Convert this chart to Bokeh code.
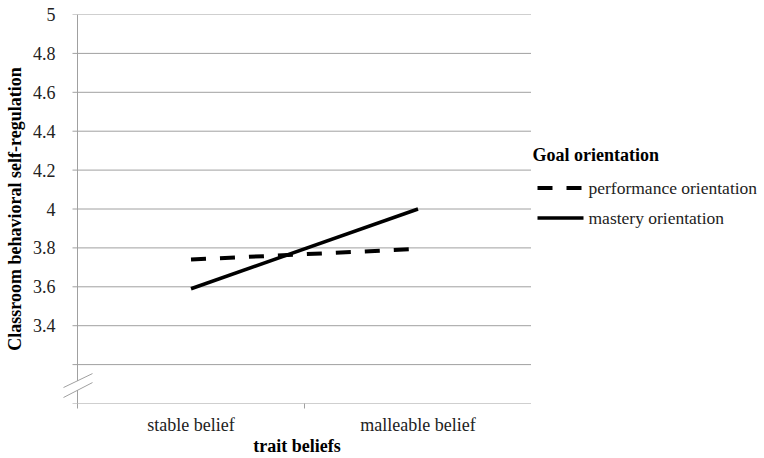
from bokeh.plotting import figure
from bokeh.layouts import row
from bokeh.models import Range1d, LinearAxis, FixedTicker, CustomJSTickFormatter
from bokeh.core.properties import value
from bokeh.embed import file_html
from bokeh.resources import INLINE

categories = ["stable belief", "malleable belief"]
performance = [3.74, 3.795]
mastery = [3.59, 4.0]
y_ticks = [3.0, 3.2, 3.4, 3.6, 3.8, 4.0, 4.2, 4.4, 4.6, 4.8, 5.0]
series_names = ["performance orientation", "mastery orientation"]
legend_title = "Goal orientation"

FONT = "Liberation Serif"
GRAY = "#a0a0a0"

H = 458
AXIS_X = 77          # page x of the value axis
FRAME_L = 62         # frame starts a little left of the axis so the break marker fits
PLOT_R = 531         # right end of the category axis
TOP, BOTTOM = 14, 54
LEG_W = 764 - PLOT_R
Y0, Y1 = 3.0, 5.0
NX = len(categories)
PX_PER_X = (PLOT_R - AXIS_X) / NX
FH = H - TOP - BOTTOM

x_centres = [i + 0.5 for i in range(NX)]
x_edges = list(range(NX + 1))

def dx(px):
    return (px - AXIS_X) / PX_PER_X
def dy(py):
    return Y1 - (py - TOP) / FH * (Y1 - Y0)

p = figure(width=PLOT_R, height=H, x_range=Range1d(dx(FRAME_L), NX), y_range=Range1d(Y0, Y1),
           output_backend="svg", toolbar_location=None, x_axis_location=None,
           min_border_left=FRAME_L, min_border_right=0,
           min_border_top=TOP, min_border_bottom=BOTTOM)
p.outline_line_color = None
p.xgrid.visible = False
p.ygrid.visible = False
p.background_fill_color = "white"
p.border_fill_color = "white"

yax = p.yaxis[0]
yax.ticker = FixedTicker(ticks=y_ticks)
yax.formatter = CustomJSTickFormatter(code="return tick < 3.3 ? '' : String(Math.round(tick * 10) / 10);")
yax.minor_tick_line_color = None
yax.major_tick_line_color = None
yax.major_tick_in = 0
yax.major_tick_out = 0
yax.axis_line_color = None
yax.major_label_standoff = 7
yax.major_label_text_font = FONT
yax.major_label_text_font_size = "18px"
yax.major_label_text_color = "#222222"
yax.axis_label = "Classroom behavioral self-regulation"
yax.axis_label_text_font = FONT
yax.axis_label_text_font_size = "18px"
yax.axis_label_text_font_style = "bold"
yax.axis_label_text_color = "black"
yax.axis_label_standoff = 5

edge_ax = LinearAxis(ticker=FixedTicker(ticks=x_edges))
edge_ax.formatter = CustomJSTickFormatter(code="return '';")
edge_ax.major_label_text_font_size = "0px"
edge_ax.major_label_standoff = 0
edge_ax.major_tick_in = 0
edge_ax.major_tick_out = 5
edge_ax.minor_tick_line_color = None
edge_ax.axis_line_color = None
edge_ax.major_tick_line_color = GRAY
p.add_layout(edge_ax, "below")

cat_ax = LinearAxis(ticker=FixedTicker(ticks=x_centres))
cat_ax.formatter = CustomJSTickFormatter(args=dict(labels=categories),
                                         code="return labels[Math.floor(tick)];")
cat_ax.axis_line_color = None
cat_ax.major_tick_line_color = None
cat_ax.minor_tick_line_color = None
cat_ax.major_label_standoff = 0
cat_ax.major_label_text_font = FONT
cat_ax.major_label_text_font_size = "18px"
cat_ax.major_label_text_color = "#222222"
cat_ax.axis_label = "trait beliefs"
cat_ax.axis_label_text_font = FONT
cat_ax.axis_label_text_font_size = "18px"
cat_ax.axis_label_text_font_style = "bold"
cat_ax.axis_label_text_color = "black"
cat_ax.axis_label_standoff = -2
p.add_layout(cat_ax, "below")

# horizontal gridlines (with their tick stubs); the one at 3.0 is the category axis line
p.segment(x0=dx(72), x1=NX, y0=y_ticks, y1=y_ticks, line_color=GRAY, line_width=1)
# value axis line with a gap for the break marker
p.segment(x0=[0, 0], x1=[0, 0], y0=[Y0, dy(381.5)], y1=[dy(390.5), Y1],
          line_color=GRAY, line_width=1)
# break marker strokes
p.segment(x0=[dx(63), dx(63)], y0=[dy(398), dy(388)], x1=[dx(92), dx(92)], y1=[dy(383), dy(374)],
          line_color=GRAY, line_width=1)

DASH = "15 14"
p.line(x_centres, performance, line_color="black", line_width=4, line_dash=DASH)
p.line(x_centres, mastery, line_color="black", line_width=3.5)

# legend panel (page-pixel coordinates; the row aligns its frame with the main frame)
lg = figure(width=LEG_W, height=H, x_range=Range1d(PLOT_R, PLOT_R + LEG_W),
            y_range=Range1d(TOP + FH, TOP),
            output_backend="svg", toolbar_location=None, x_axis_location=None,
            y_axis_location=None, min_border=0)
lg.outline_line_color = None
lg.grid.visible = False
lg.background_fill_color = "white"
lg.border_fill_color = "white"

lg.text(x=[532], y=[155], text=[legend_title], text_font=value(FONT),
        text_font_size=value("18px"), text_font_style="bold", text_color="black",
        text_baseline="middle", text_align="left")
entry_y = [188, 218]
entry_dash = [DASH, "solid"]
entry_w = [4, 3.5]
for name, ey, dsh, lw in zip(series_names, entry_y, entry_dash, entry_w):
    lg.line([537, 583], [ey, ey], line_color="black", line_width=lw, line_dash=dsh)
lg.text(x=[588, 588], y=entry_y, text=series_names, text_font=value(FONT),
        text_font_size=value("17.5px"), text_color="#222222",
        text_baseline="middle", text_align="left")

layout = row(p, lg, spacing=0)
open("out.html", "w").write(file_html(layout, INLINE))
